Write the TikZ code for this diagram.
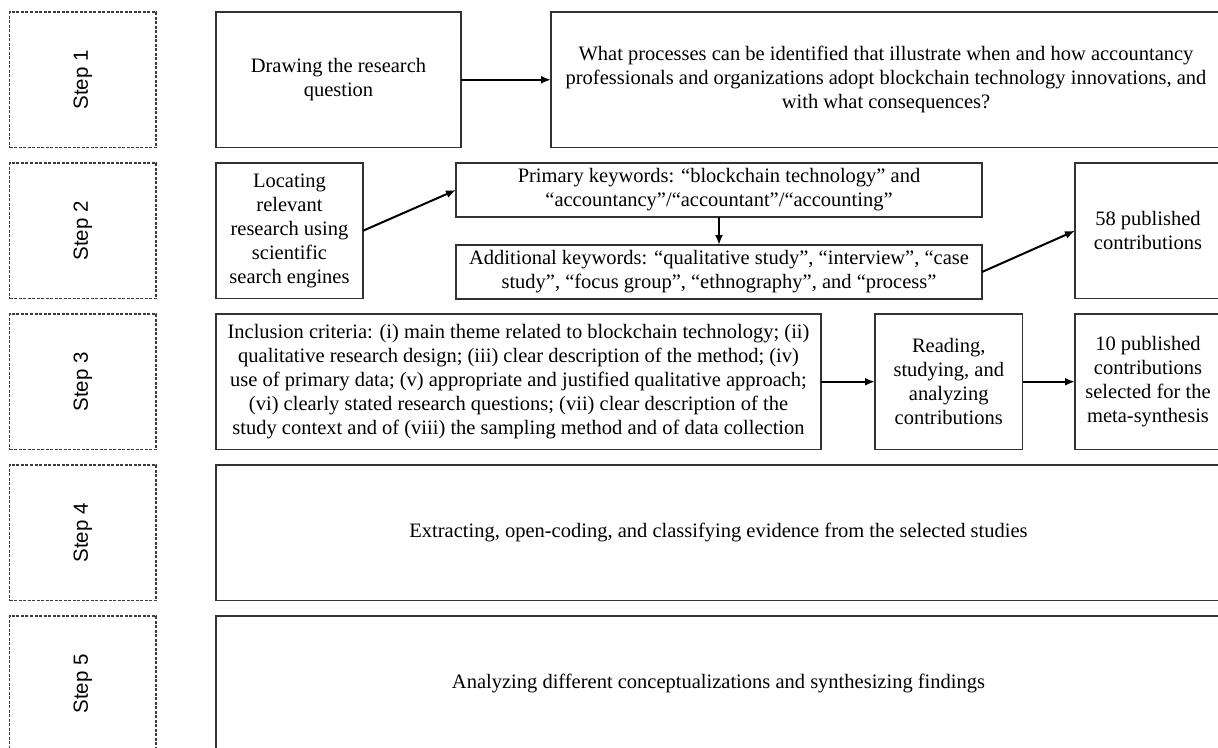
\documentclass[tikz,border=0pt]{standalone}
\usepackage{fontspec}
\setmainfont{Liberation Serif}
\setsansfont{Liberation Sans}
\usetikzlibrary{positioning,arrows.meta}
\definecolor{myframe}{RGB}{50,50,50}
\definecolor{mydash}{RGB}{60,60,60}

\begin{document}
\begin{tikzpicture}[x=1pt,y=-1pt,node distance=15.5pt,outer sep=0pt,
            boxb/.style={
                draw=myframe,
                line width=1.6pt,
                align=center,
                inner sep=2pt,
                minimum height=135.5pt,
            font=\fontsize{20.5}{24}\selectfont},
            stepb/.style={boxb,draw=mydash,line width=1.4pt,dash pattern=on 3pt off 1.5pt,
                minimum width=146.5pt,font=\sffamily\fontsize{20.5}{24}\selectfont},
            keyb/.style={boxb,minimum height=54pt},
            arr/.style={-{Latex[length=10pt,width=8pt]},line width=2pt},
        ]
        \useasboundingbox (0,0) rectangle (1218,747);
        \clip (0,0) rectangle (1218,747);

        % steps on the left
        \node[stepb] (Step1) at (82.75,79.75) {\rotatebox{90}{Step 1}};
        \node[stepb,below=of Step1] (Step2) {\rotatebox{90}{Step 2}};
        \node[stepb,below=of Step2] (Step3) {\rotatebox{90}{Step 3}};
        \node[stepb,below=of Step3] (Step4) {\rotatebox{90}{Step 4}};
        \node[stepb,below=of Step4] (Step5) {\rotatebox{90}{Step 5}};

        % step 1
        \node[boxb,minimum width=245pt,right=60pt of Step1] (Draw) {Drawing the research\\question};
        \node[boxb,minimum width=670pt,right=90pt of Draw] (Quest) {What processes can be identified that illustrate when and how accountancy\\professionals and organizations adopt blockchain technology innovations, and\\with what consequences?};

        % step 2
        \node[boxb,minimum width=147pt,right=60pt of Step2] (Loc) {Locating\\relevant\\research using\\scientific\\search engines};
        \node[keyb,minimum width=526pt,right=93pt of Loc.north east,anchor=north west] (Prim) {Primary keywords: “blockchain technology” and\\“accountancy”/“accountant”/“accounting”};
        \node[keyb,minimum width=526pt,below=28pt of Prim] (Add) {Additional keywords: “qualitative study”, “interview”, “case\\study”, “focus group”, “ethnography”, and “process”};
        \node[boxb,minimum width=146pt,right=93pt of Prim.north east,anchor=north west] (Pub58) {58 published\\contributions};

        % step 3
        \node[boxb,minimum width=605pt,right=60pt of Step3] (Incl) {Inclusion criteria: (i) main theme related to blockchain technology; (ii)\\qualitative research design; (iii) clear description of the method; (iv)\\use of primary data; (v) appropriate and justified qualitative approach;\\(vi) clearly stated research questions; (vii) clear description of the\\study context and of (viii) the sampling method and of data collection};
        \node[boxb,minimum width=147.5pt,right=54pt of Incl] (Read) {Reading,\\studying, and\\analyzing\\contributions};
        \node[boxb,minimum width=146pt,right=52.5pt of Read] (Pub10) {10 published\\contributions\\selected for the\\meta-synthesis};

        % steps 4 and 5
        \node[boxb,minimum width=1005pt,right=60pt of Step4] (Extr) {Extracting, open-coding, and classifying evidence from the selected studies};
        \node[boxb,minimum width=1005pt,right=60pt of Step5] (Anal) {Analyzing different conceptualizations and synthesizing findings};

        \draw[arr] (Draw) -- (Quest);
        \draw[arr] (Loc.east) -- (Prim.west);
        \draw[arr] (Prim) -- (Add);
        \draw[arr] (Add.east) -- (Pub58.west);
        \draw[arr] (Incl) -- (Read);
        \draw[arr] (Read) -- (Pub10);
    \end{tikzpicture}
\end{document}
